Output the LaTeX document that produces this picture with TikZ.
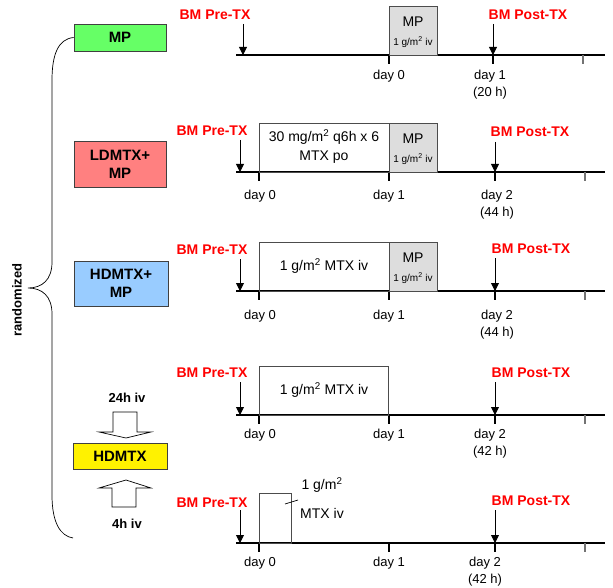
\documentclass[tikz,border=0pt]{standalone}
\usepackage{fontspec}
\setmainfont{Liberation Sans}
\usetikzlibrary{arrows.meta}
\definecolor{mpgreen}{RGB}{102,255,102}
\definecolor{ldred}{RGB}{255,128,128}
\definecolor{hdblue}{RGB}{153,204,255}
\definecolor{dosegray}{RGB}{221,221,221}
\tikzset{
	arm/.style={draw=black!75, line width=0.8pt, inner sep=0pt, align=center,
		font=\fontsize{15}{18}\selectfont\bfseries, minimum width=92},
	dose/.style={draw=black!70, line width=0.8pt, inner sep=0pt},
	mpdose/.style={dose, fill=dosegray, minimum width=48, minimum height=49},
	bm/.style={text=red, font=\fontsize{14}{16}\selectfont\bfseries},
	lbl/.style={align=center, font=\fontsize{13}{17}\selectfont},
	boxtxt/.style={align=center, font=\fontsize{14}{19}\selectfont},
	small/.style={font=\fontsize{10}{12}\selectfont},
	axis/.style={line width=1.1pt},
	tip/.style={line width=0.9pt, -{Triangle[length=8pt,width=8pt]}},
}
\begin{document}
\begin{tikzpicture}[x=1pt,y=-1pt]
	\useasboundingbox (0,0) rectangle (613,588);

	% arms
	\node[arm, fill=mpgreen, minimum height=27] (mp) at (120,37.5) {MP};
	\node[arm, fill=ldred, minimum height=46] (ldmtx) at (120,164) {LDMTX+\\MP};
	\node[arm, fill=hdblue, minimum height=45, minimum width=94] (hdmtxmp) at (121,283.5) {HDMTX+\\MP};
	\node[arm, fill=yellow, minimum height=26, minimum width=94] (hdmtx) at (120,456.5) {HDMTX};

	% brace
	\draw[line width=0.7pt] (mp.west) .. controls (58,39) and (52,55) .. (52,80) -- (52,262)
		.. controls (52,280) and (42,288) .. (28,288)
		.. controls (42,288) and (52,296) .. (52,314) -- (52,495)
		.. controls (52,522) and (60,536) .. (73,538);
	\node[rotate=90, font=\fontsize{13}{15}\selectfont\bfseries] (rand) at (17,300) {randomized};

	% 24h / 4h block arrows
	\node[font=\fontsize{13}{15}\selectfont\bfseries] (inf24) at (127,398) {24h iv};
	\node[font=\fontsize{13}{15}\selectfont\bfseries] (inf4) at (127,524) {4h iv};
	\draw[line width=0.7pt, fill=white] (113,412) -- (137,412) -- (137,432) -- (151,432)
		-- (126,438) -- (99,432) -- (113,432) -- cycle;
	\draw[line width=0.7pt, fill=white] (112,507) -- (136,507) -- (136,488) -- (151,488)
		-- (126,480) -- (99,488) -- (112,488) -- cycle;

	% time lines
	\draw[axis] (236,55) -- (605,55);
	\foreach \x in {389,493}
	{
		\draw[axis] (\x,55) -- ++(0,9);
	}
	\draw[axis, black!55] (583,55) -- ++(0,9);
	\foreach \y in {172,291,415,543}
	{
		\draw[axis] (236,\y) -- (605,\y);
		\foreach \x in {259,389,495}
		{
			\draw[axis] (\x,\y) -- ++(0,9);
		}
		\draw[axis, black!55] (585,\y) -- ++(0,9);
	}

	% row 1: MP
	\node[mpdose] (mp1) at (413,30.5) {};
	\node[font=\fontsize{14}{16}\selectfont] (mp1a) at (413,22) {MP};
	\node[small] (mp1b) at (413,42) {1 g/m\textsuperscript{2} iv};
	\node[bm] (pre1) at (215,15) {BM Pre-TX};
	\node[bm] (post1) at (528,15) {BM Post-TX};
	\coordinate (pre1t) at (243,55);
	\coordinate (post1t) at (493,55);
	\draw[tip] ([yshift=31pt]pre1t) -- (pre1t);
	\draw[tip] ([yshift=31pt]post1t) -- (post1t);
	\node[lbl] (day1a) at (389,76) {day 0};
	\node[lbl] (day1b) at (490,84.5) {day 1\\(20 h)};

	% row 2: LDMTX+MP
	\node[dose, minimum width=130, minimum height=49] (ld2) at (324,147.5) {};
	\node[boxtxt] (ld2a) at (324,146.5) {30 mg/m\textsuperscript{2} q6h x 6\\MTX po};
	\node[mpdose] (mp2) at (413,147.5) {};
	\node[font=\fontsize{14}{16}\selectfont] (mp2a) at (413,139) {MP};
	\node[small] (mp2b) at (413,159) {1 g/m\textsuperscript{2} iv};
	\node[bm] (pre2) at (212,131) {BM Pre-TX};
	\node[bm] (post2) at (530,132) {BM Post-TX};
	\coordinate (pre2t) at (240,172);
	\coordinate (post2t) at (495,172);
	\draw[tip] ([yshift=32pt]pre2t) -- (pre2t);
	\draw[tip] ([yshift=30pt]post2t) -- (post2t);
	\node[lbl] (day2a) at (260,196) {day 0};
	\node[lbl] (day2b) at (389,196) {day 1};
	\node[lbl] (day2c) at (497,204.5) {day 2\\(44 h)};

	% row 3: HDMTX+MP
	\node[dose, minimum width=130, minimum height=49] (hd3) at (324,266.5) {};
	\node[boxtxt] (hd3a) at (324,266) {1 g/m\textsuperscript{2} MTX iv};
	\node[mpdose] (mp3) at (413,266.5) {};
	\node[font=\fontsize{14}{16}\selectfont] (mp3a) at (413,258) {MP};
	\node[small] (mp3b) at (413,278) {1 g/m\textsuperscript{2} iv};
	\node[bm] (pre3) at (212,250) {BM Pre-TX};
	\node[bm] (post3) at (531,249) {BM Post-TX};
	\coordinate (pre3t) at (240,291);
	\coordinate (post3t) at (495,291);
	\draw[tip] ([yshift=32pt]pre3t) -- (pre3t);
	\draw[tip] ([yshift=33pt]post3t) -- (post3t);
	\node[lbl] (day3a) at (260,316) {day 0};
	\node[lbl] (day3b) at (389,316) {day 1};
	\node[lbl] (day3c) at (497,324.5) {day 2\\(44 h)};

	% row 4: HDMTX 24h
	\node[dose, minimum width=129, minimum height=49] (hd4) at (323.5,390.5) {};
	\node[boxtxt] (hd4a) at (324,390) {1 g/m\textsuperscript{2} MTX iv};
	\node[bm] (pre4) at (212,373) {BM Pre-TX};
	\node[bm] (post4) at (531,373) {BM Post-TX};
	\coordinate (pre4t) at (240,415);
	\coordinate (post4t) at (495,415);
	\draw[tip] ([yshift=33pt]pre4t) -- (pre4t);
	\draw[tip] ([yshift=33pt]post4t) -- (post4t);
	\node[lbl] (day4a) at (260,435) {day 0};
	\node[lbl] (day4b) at (389,435) {day 1};
	\node[lbl] (day4c) at (490,443.5) {day 2\\(42 h)};

	% row 5: HDMTX 4h
	\node[dose, minimum width=32, minimum height=50] (hd5) at (275,518) {};
	\node[boxtxt] (hd5a) at (322,485) {1 g/m\textsuperscript{2}};
	\node[boxtxt] (hd5b) at (322,513) {MTX iv};
	\coordinate (lead5) at (285,504);
	\draw[line width=0.7pt] (lead5) -- ++(13,-4);
	\node[bm] (pre5) at (212,503) {BM Pre-TX};
	\node[bm] (post5) at (531,501) {BM Post-TX};
	\coordinate (pre5t) at (240,543);
	\coordinate (post5t) at (495,543);
	\draw[tip] ([yshift=33pt]pre5t) -- (pre5t);
	\draw[tip] ([yshift=33pt]post5t) -- (post5t);
	\node[lbl] (day5a) at (260,563) {day 0};
	\node[lbl] (day5b) at (389,563) {day 1};
	\node[lbl] (day5c) at (485,571.5) {day 2\\(42 h)};
\end{tikzpicture}
\end{document}
